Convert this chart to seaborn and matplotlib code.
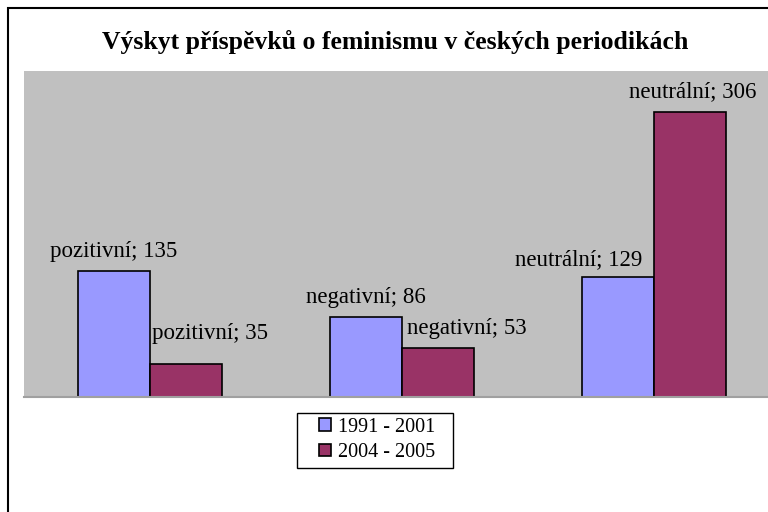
import pandas as pd
import matplotlib.pyplot as plt
import matplotlib.patches as mpatches
import seaborn as sns

# Data
categories = ['pozitivní', 'negativní', 'neutrální']
periods = ['1991 - 2001', '2004 - 2005']
values_1991_2001 = [135, 86, 129]
values_2004_2005 = [35, 53, 306]

df = pd.DataFrame({
    'kategorie': categories * 2,
    'obdobi': [periods[0]] * 3 + [periods[1]] * 3,
    'pocet': values_1991_2001 + values_2004_2005,
})

colors = ['#9999FF', '#993366']

sns.set_style('white')
plt.rcParams['font.family'] = ['Liberation Serif', 'DejaVu Serif']
plt.rcParams['text.color'] = 'black'

fig = plt.figure(figsize=(7.68, 5.12), dpi=100)
ax = fig.add_axes([24 / 768, 1 - 397 / 512, 756 / 768, 326 / 512])
ax.set_facecolor('#C0C0C0')

sns.barplot(data=df, x='kategorie', y='pocet', hue='obdobi',
            order=categories, hue_order=periods,
            palette=colors, width=0.572,
            edgecolor='black', linewidth=1.2, saturation=1,
            legend=False, ax=ax)

ax.set_xlim(-0.5, 2.5)
ax.set_ylim(0, 350)
ax.set_xticks([])
ax.set_yticks([])
ax.set_xlabel('')
ax.set_ylabel('')
for side in ['top', 'left', 'right']:
    ax.spines[side].set_visible(False)
ax.spines['bottom'].set_color('#A0A0A0')
ax.spines['bottom'].set_linewidth(1.5)

# data labels, shifted (in pixels) like the original to avoid overlaps
shift_x = [[0, 0, -39], [24, 29, 3]]
shift_y = [[14, 14, 12], [25, 14, 15]]
for h, cont in enumerate(ax.containers):
    for i, bar in enumerate(cont):
        val = bar.get_height()
        ax.annotate(f'{categories[i]}; {int(val)}',
                    xy=(bar.get_x() + bar.get_width() / 2, val),
                    xytext=(shift_x[h][i] * 0.72, shift_y[h][i] * 0.72),
                    textcoords='offset points',
                    ha='center', va='baseline', fontsize=16.5, color='black')

fig.text(395 / 768, 1 - 42 / 512, 'Výskyt příspěvků o feminismu v českých periodikách',
         ha='center', va='center', fontsize=18.5, fontweight='bold', color='black')

# legend: entries without frame, box drawn separately
handles = [mpatches.Patch(facecolor=c, edgecolor='black', linewidth=1.2) for c in colors]
leg = fig.legend(handles, periods, loc='center', bbox_to_anchor=(377 / 768, 1 - 440 / 512),
                 fontsize=14.5, frameon=False,
                 handlelength=0.6, handleheight=0.6, handletextpad=0.35,
                 labelspacing=0.3, borderpad=0.2)
for t in leg.get_texts():
    t.set_color('black')
fig.patches.append(mpatches.Rectangle((297 / 768, 1 - 468 / 512), 156 / 768, 55 / 512,
                                      transform=fig.transFigure, fill=False,
                                      edgecolor='black', linewidth=1.0))

# outer chart border (runs past the right and bottom edges)
fig.patches.append(mpatches.Rectangle((8 / 768, -0.1), 1.2, 1.1 - 8 / 512,
                                      transform=fig.transFigure, fill=False,
                                      edgecolor='black', linewidth=1.5))

fig.savefig('out.png', dpi=100)
